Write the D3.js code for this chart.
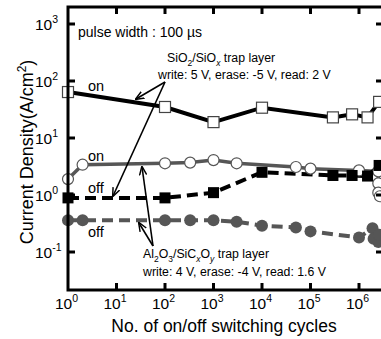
<!DOCTYPE html>
<html>
<head>
<meta charset="utf-8">
<script src="https://cdn.jsdelivr.net/npm/d3@7"></script>
<style>
  body { margin: 0; background: #fff; }
  text { font-family: "Liberation Sans", Arial, sans-serif; }
</style>
</head>
<body>
<div id="main"></div>
<script>
// values
const xTicks = [1, 10, 100, 1e3, 1e4, 1e5, 1e6];
const yTicks = [0.1, 1, 10, 100, 1000];

const sioOnCycles  = [1, 100, 1000, 1e4, 2.9e5, 7.2e5, 1.5e6, 2.6e6];
const sioOnJ       = [64, 35, 19, 34, 23, 26, 23, 43];
const sioOffCycles = [1, 100, 1000, 1e4, 2.9e5, 7.2e5, 1.5e6, 2.6e6];
const sioOffJ      = [0.89, 0.89, 1.1, 2.5, 2.2, 2.2, 2.15, 3.3];
const alOnCycles   = [1, 2, 100, 330, 1000, 3000, 5e4, 1e5, 1e6, 2.5e6, 2.5e6, 2.5e6, 2.7e6];
const alOnJ        = [1.9, 3.4, 3.6, 3.7, 4.1, 3.6, 3.1, 2.9, 2.7, 2.6, 1.6, 1.1, 0.95];
const alOffCycles  = [1, 2, 100, 330, 1000, 3000, 1e4, 5e4, 1e5, 1e6, 1.9e6, 2e6, 2.5e6, 2.6e6];
const alOffJ       = [0.36, 0.36, 0.36, 0.36, 0.36, 0.34, 0.29, 0.27, 0.23, 0.18, 0.26, 0.17, 0.15, 0.2];

const W = 381, H = 339;
const pL = 68, pT = 7, pR = 383, pB = 290;
const gray = '#565656';

const svg = d3.select('#main').append('svg')
  .attr('width', W).attr('height', H);

const x = d3.scaleLog().domain([1, 1e6]).range([68, 359]);
const y = d3.scaleLog().domain([0.1, 1000]).range([252, 24]);

const plot = svg.append('g');

function series(cx, cy) { return cx.map((c, i) => ({c: c, j: cy[i]})); }
const line = d3.line().x(d => x(d.c)).y(d => y(d.j));

// lines first
plot.append('path').datum(series(sioOnCycles, sioOnJ)).attr('d', line)
  .attr('fill', 'none').attr('stroke', '#000').attr('stroke-width', 4);
plot.append('path').datum(series(alOnCycles, alOnJ)).attr('d', line)
  .attr('fill', 'none').attr('stroke', gray).attr('stroke-width', 3.5);
plot.append('path').datum(series(sioOffCycles, sioOffJ)).attr('d', line)
  .attr('fill', 'none').attr('stroke', '#000').attr('stroke-width', 4)
  .attr('stroke-dasharray', '11,6');
plot.append('path').datum(series(alOffCycles, alOffJ)).attr('d', line)
  .attr('fill', 'none').attr('stroke', gray).attr('stroke-width', 4)
  .attr('stroke-dasharray', '11,6');

// markers
const sq = 11;
plot.selectAll('.sqOn').data(series(sioOnCycles, sioOnJ)).join('rect')
  .attr('x', d => x(d.c) - sq / 2).attr('y', d => y(d.j) - sq / 2)
  .attr('width', sq).attr('height', sq)
  .attr('fill', '#fff').attr('stroke', '#444').attr('stroke-width', 1.2);
plot.selectAll('.cOn').data(series(alOnCycles, alOnJ)).join('circle')
  .attr('cx', d => x(d.c)).attr('cy', d => y(d.j)).attr('r', 5.5)
  .attr('fill', '#fff').attr('stroke', gray).attr('stroke-width', 1.2);
plot.selectAll('.sqOff').data(series(sioOffCycles, sioOffJ)).join('rect')
  .attr('x', d => x(d.c) - sq / 2).attr('y', d => y(d.j) - sq / 2)
  .attr('width', sq).attr('height', sq).attr('fill', '#000');
plot.selectAll('.cOff').data(series(alOffCycles, alOffJ)).join('circle')
  .attr('cx', d => x(d.c)).attr('cy', d => y(d.j)).attr('r', 6)
  .attr('fill', gray);

// frame
svg.append('rect').attr('x', pL).attr('y', pT)
  .attr('width', pR - pL).attr('height', pB - pT)
  .attr('fill', 'none').attr('stroke', '#000').attr('stroke-width', 3);

// ticks, all pointing inward
const tk = 7;
xTicks.slice(1).forEach(t => {
  svg.append('line').attr('x1', x(t)).attr('x2', x(t)).attr('y1', pB).attr('y2', pB - tk)
    .attr('stroke', '#000').attr('stroke-width', 3);
  svg.append('line').attr('x1', x(t)).attr('x2', x(t)).attr('y1', pT).attr('y2', pT + tk)
    .attr('stroke', '#000').attr('stroke-width', 3);
});
yTicks.forEach(t => {
  svg.append('line').attr('x1', pL).attr('x2', pL + tk).attr('y1', y(t)).attr('y2', y(t))
    .attr('stroke', '#000').attr('stroke-width', 3);
  svg.append('line').attr('x1', pR).attr('x2', pR - tk).attr('y1', y(t)).attr('y2', y(t))
    .attr('stroke', '#000').attr('stroke-width', 3);
});

// tick labels
function pow(g, t) {
  const e = Math.round(Math.log10(t));
  g.append('tspan').text('10');
  g.append('tspan').attr('dy', -7).attr('font-size', 10.5).text(e);
}
xTicks.forEach(t => {
  const g = svg.append('text').attr('x', x(t) - 13).attr('y', 309)
    .attr('font-size', 15.5).attr('fill', '#000');
  pow(g, t);
});
yTicks.forEach(t => {
  const g = svg.append('text').attr('x', 35).attr('y', y(t) + 6)
    .attr('font-size', 15.5).attr('fill', '#000');
  pow(g, t);
});

// axis titles
svg.append('text').attr('x', 224).attr('y', 332).attr('text-anchor', 'middle')
  .attr('font-size', 17.5).text('No. of on/off switching cycles');
const yl = svg.append('text').attr('transform', 'translate(33,152) rotate(-90)')
  .attr('text-anchor', 'middle').attr('font-size', 18);
yl.append('tspan').text('Current Density(A/cm');
yl.append('tspan').attr('dy', -7).attr('font-size', 12).text('2');
yl.append('tspan').attr('dy', 7).text(')');

// annotations
svg.append('text').attr('x', 78).attr('y', 37).attr('font-size', 14).text('pulse width : 100 µs');

const t1 = svg.append('text').attr('x', 167).attr('y', 62).attr('font-size', 12.3);
t1.append('tspan').text('SiO');
t1.append('tspan').attr('dy', 4).attr('font-size', 8.5).text('2');
t1.append('tspan').attr('dy', -4).text('/SiO');
t1.append('tspan').attr('dy', 4).attr('font-size', 8.5).attr('font-style', 'italic').text('x');
t1.append('tspan').attr('dy', -4).text(' trap layer');
svg.append('text').attr('x', 158).attr('y', 79).attr('font-size', 12.3)
  .text('write: 5 V, erase: -5 V, read: 2 V');

const t2 = svg.append('text').attr('x', 143).attr('y', 258).attr('font-size', 12.3);
t2.append('tspan').text('Al');
t2.append('tspan').attr('dy', 4).attr('font-size', 8.5).text('2');
t2.append('tspan').attr('dy', -4).text('O');
t2.append('tspan').attr('dy', 4).attr('font-size', 8.5).text('3');
t2.append('tspan').attr('dy', -4).text('/SiC');
t2.append('tspan').attr('dy', 4).attr('font-size', 8.5).attr('font-style', 'italic').text('x');
t2.append('tspan').attr('dy', -4).text('O');
t2.append('tspan').attr('dy', 4).attr('font-size', 8.5).attr('font-style', 'italic').text('y');
t2.append('tspan').attr('dy', -4).text(' trap layer');
svg.append('text').attr('x', 143).attr('y', 276).attr('font-size', 12.3)
  .text('write: 4 V, erase: -4 V, read: 1.6 V');

[['on', 88, 91], ['on', 88, 161], ['off', 88, 193], ['off', 88, 237]].forEach(d => {
  svg.append('text').attr('x', d[1]).attr('y', d[2]).attr('font-size', 14.5).text(d[0]);
});

// arrows
svg.append('defs').append('marker').attr('id', 'ah')
  .attr('viewBox', '0 0 10 10').attr('refX', 9).attr('refY', 5)
  .attr('markerWidth', 9).attr('markerHeight', 9).attr('orient', 'auto')
  .attr('markerUnits', 'userSpaceOnUse')
  .append('path').attr('d', 'M0,1 L10,5 L0,9').attr('fill', 'none')
  .attr('stroke', '#000').attr('stroke-width', 1.6);
[[165, 82, 136, 99], [165, 82, 113, 196], [153, 246, 139, 223], [153, 246, 142, 167]].forEach(a => {
  svg.append('line').attr('x1', a[0]).attr('y1', a[1]).attr('x2', a[2]).attr('y2', a[3])
    .attr('stroke', '#000').attr('stroke-width', 1.6).attr('marker-end', 'url(#ah)');
});
</script>
</body>
</html>
